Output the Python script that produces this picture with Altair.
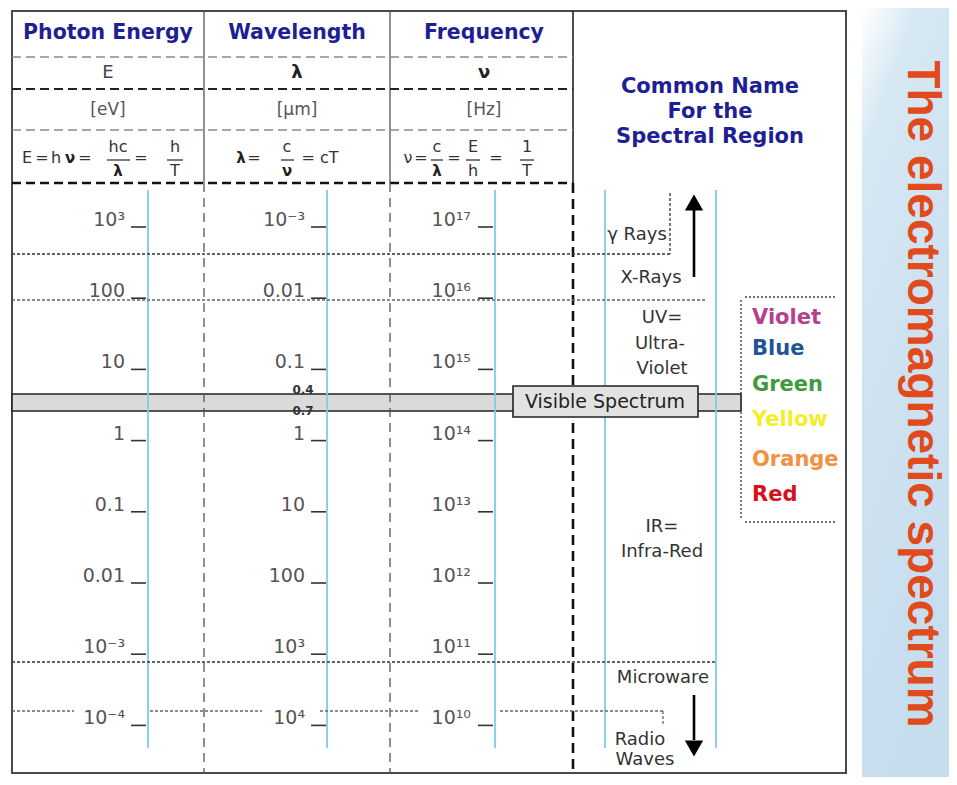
import altair as alt
import pandas as pd

# ---------------- chart values ----------------
log_energy = [3, 2, 1, 0, -1, -2, -3, -4]
energy_labels = ["10³", "100", "10", "1", "0.1", "0.01", "10⁻³", "10⁻⁴"]
wavelength_labels = ["10⁻³", "0.01", "0.1", "1", "10", "100", "10³", "10⁴"]
frequency_labels = ["10¹⁷", "10¹⁶", "10¹⁵", "10¹⁴", "10¹³", "10¹²", "10¹¹", "10¹⁰"]

column_titles = ["Photon Energy", "Wavelength", "Frequency"]
column_symbols = ["E", "λ", "ν"]
column_units = ["[eV]", "[μm]", "[Hz]"]

region_title = ["Common Name", "For the", "Spectral Region"]
region_names = ["γ Rays", "X-Rays", "UV=", "Ultra-", "Violet", "IR=", "Infra-Red",
                "Microware", "Radio", "Waves"]

visible_names = ["Violet", "Blue", "Green", "Yellow", "Orange", "Red"]
visible_limits = ["0.4", "0.7"]
visible_label = "Visible Spectrum"
main_title = "The electromagnetic spectrum"

# ---------------- styles ----------------
SANS = "DejaVu Sans"
NAVY = "#1f1f95"
visible_colors = ["#b3418f", "#1f5597", "#3f9a3f", "#f2ee2a", "#f39140", "#d4111c"]
AXIS_BLUE = "#82cbe8"

# ---------------- layout (page pixels) ----------------
PAGE_X = [8, 949]
PAGE_Y = [8, 777]
ROW_Y0 = 227.0
ROW_STEP = 71.2
LOG_TOP = log_energy[0] + (ROW_Y0 - PAGE_Y[0]) / ROW_STEP
LOG_BOTTOM = log_energy[0] - (PAGE_Y[1] - ROW_Y0) / ROW_STEP

COL_CENTER = [108, 297, 484]
COL_AXIS = [148, 327, 495]
LABEL_RIGHT = [125, 305, 471]
TICK_X = [(131, 146), (311, 326), (478, 493)]

XS = alt.Scale(domain=PAGE_X, nice=False, zero=False)
YS = alt.Scale(domain=PAGE_Y, reverse=True, nice=False, zero=False)
ES = alt.Scale(domain=[LOG_BOTTOM, LOG_TOP], nice=False, zero=False)


def ex():
    return alt.X("x:Q", scale=XS, axis=None)


def ey(field="y", scale=YS):
    return alt.Y(f"{field}:Q", scale=scale, axis=None)


def rules(segs, color, width, dash=None, opacity=1.0):
    df = pd.DataFrame(segs, columns=["x", "y", "x2", "y2"])
    kw = dict(color=color, strokeWidth=width, opacity=opacity)
    if dash:
        kw["strokeDash"] = dash
    return alt.Chart(df).mark_rule(**kw).encode(
        x=ex(), y=ey(), x2=alt.X2("x2:Q"), y2=alt.Y2("y2:Q"))


def rects(boxes, fill, stroke=None, width=1.0):
    df = pd.DataFrame(boxes, columns=["x", "y", "x2", "y2"])
    kw = dict(fill=fill)
    if stroke:
        kw["stroke"] = stroke
        kw["strokeWidth"] = width
    return alt.Chart(df).mark_rect(**kw).encode(
        x=ex(), y=ey(), x2=alt.X2("x2:Q"), y2=alt.Y2("y2:Q"))


def texts(items, size, color, weight="normal", align="center", baseline="middle",
          angle=0, font=SANS):
    df = pd.DataFrame(items, columns=["x", "y", "t"])
    kw = dict(fontSize=size, font=font, fontWeight=weight, align=align,
              baseline=baseline, color=color)
    if angle:
        kw["angle"] = angle
    return alt.Chart(df).mark_text(**kw).encode(x=ex(), y=ey(), text="t:N")


layers = []

# right gradient band + title
grad = alt.LinearGradient(
    gradient="linear",
    stops=[alt.GradientStop(offset=0, color="#ffffff"),
           alt.GradientStop(offset=0.18, color="#d6e8f3"),
           alt.GradientStop(offset=0.5, color="#cfe2f1"),
           alt.GradientStop(offset=1, color="#c6ddee")],
    x1=0, x2=0.3, y1=0, y2=1)
band_df = pd.DataFrame([[862, PAGE_Y[0], PAGE_X[1], PAGE_Y[1]]], columns=["x", "y", "x2", "y2"])
layers.append(alt.Chart(band_df).mark_rect(color=grad).encode(
    x=ex(), y=ey(), x2=alt.X2("x2:Q"), y2=alt.Y2("y2:Q")))

# outer box
layers.append(rects([[12, 11, 846, 773]], "white", "#4a4a4a", 2))

# visible band across the table
layers.append(rects([[12, 394, 741, 411]], "#dadada", "#222222", 1.6))

# light-blue scale lines
layers.append(rules([[x, 190, x, 748] for x in COL_AXIS + [605, 716]], AXIS_BLUE, 1.8))

# header grid
layers.append(rules([[204, 11, 204, 183], [390, 11, 390, 183]], "#555555", 1.3))
layers.append(rules([[573, 11, 573, 183]], "#222222", 1.6))
layers.append(rules([[12, 57, 573, 57], [12, 130, 573, 130]], "#8a8a8a", 1.6, [9, 5]))
layers.append(rules([[12, 89, 573, 89]], "#222222", 2.0, [9, 5]))
layers.append(rules([[12, 183, 573, 183]], "#111111", 2.6, [9, 5]))

# body column separators
layers.append(rules([[204, 183, 204, 773], [390, 183, 390, 773]], "#555555", 1.3, [9, 6]))
layers.append(rules([[573, 183, 573, 773]], "#111111", 2.6, [10, 6]))

# region boundaries (dotted)
layers.append(rules([[12, 254, 670, 254], [670, 193, 670, 254],
                     [12, 662, 716, 662]], "#333333", 1.3, [3, 2]))
layers.append(rules([[12, 300, 705, 300],
                     [12, 711, 74, 711], [150, 711, 262, 711], [320, 711, 418, 711],
                     [500, 711, 663, 711], [663, 711, 663, 724]],
                    "#666666", 1.3, [3, 2]))
# bracket around visible colours
layers.append(rules([[745, 297, 835, 297], [741, 300, 741, 518], [745, 522, 835, 522]],
                    "#444444", 1.4, [2, 2]))

# tick marks and tick labels, positioned on the log-energy scale
tick_rows = []
label_rows = []
for c, labels in enumerate([energy_labels, wavelength_labels, frequency_labels]):
    for le, lab in zip(log_energy, labels):
        tick_rows.append({"x": TICK_X[c][0], "x2": TICK_X[c][1], "logE": le})
        label_rows.append({"x": LABEL_RIGHT[c], "logE": le, "t": lab})
layers.append(alt.Chart(pd.DataFrame(tick_rows)).mark_rule(color="#333333", strokeWidth=1.6).encode(
    x=ex(), x2=alt.X2("x2:Q"), y=ey("logE", ES)))
layers.append(alt.Chart(pd.DataFrame(label_rows)).mark_text(
    fontSize=19, font=SANS, color="#555555", align="right", baseline="alphabetic", dy=-1).encode(
    x=ex(), y=ey("logE", ES), text="t:N"))

# visible spectrum label box
layers.append(rects([[513, 386, 698, 417]], "#e2e2e2", "#222222", 1.6))
layers.append(texts([[605, 402, visible_label]], 19, "#222222"))
layers.append(texts([[303, 390, visible_limits[0]], [303, 411, visible_limits[1]]], 12, "#333333", "bold"))

# header texts
layers.append(texts([[COL_CENTER[i], 33, column_titles[i]] for i in range(3)], 20.5, NAVY, "bold"))
layers.append(texts([[COL_CENTER[0], 73, column_symbols[0]]], 18, "#444444"))
layers.append(texts([[COL_CENTER[1], 73, column_symbols[1]], [COL_CENTER[2], 73, column_symbols[2]]],
                    18, "#222222", "bold"))
layers.append(texts([[COL_CENTER[i], 110, column_units[i]] for i in range(3)], 17, "#555555"))
layers.append(texts([[710, 87 + 25 * i, region_title[i]] for i in range(3)], 21, NAVY, "bold"))

# formulas
F_MAIN, F_NUM, F_DEN, F_BAR = 158, 147, 171, 160
layers.append(texts([[27, F_MAIN, "E"], [42, F_MAIN, "="], [56, F_MAIN, "h"], [85, F_MAIN, "="],
                     [118, F_NUM, "hc"], [141, F_MAIN, "="], [175, F_NUM, "h"], [175, F_DEN, "T"],
                     [254, F_MAIN, "="], [287, F_NUM, "c"], [320, F_MAIN, "= cT"],
                     [408, F_MAIN, "ν"], [421, F_MAIN, "="], [437, F_NUM, "c"], [454, F_MAIN, "="],
                     [473, F_NUM, "E"], [473, F_DEN, "h"], [496, F_MAIN, "="], [527, F_NUM, "1"],
                     [527, F_DEN, "T"]], 16, "#333333"))
layers.append(texts([[70, F_MAIN, "ν"], [118, F_DEN, "λ"], [241, F_MAIN, "λ"], [287, F_DEN, "ν"],
                     [437, F_DEN, "λ"]], 15, "#222222", "bold"))
layers.append(rules([[107, F_BAR, 130, F_BAR], [167, F_BAR, 183, F_BAR], [281, F_BAR, 294, F_BAR],
                     [431, F_BAR, 443, F_BAR], [466, F_BAR, 480, F_BAR], [520, F_BAR, 534, F_BAR]],
                    "#333333", 1.3))

# spectral region names
region_pos = [(637, 235), (651, 278), (662, 318), (660, 344), (662, 369), (662, 527),
              (662, 552), (663, 678), (640, 740), (645, 760)]
layers.append(texts([[p[0], p[1], n] for p, n in zip(region_pos, region_names)], 18, "#333333"))

# visible colour names
vis_y = [318, 349, 385, 420, 460, 495]
for name, col, yy in zip(visible_names, visible_colors, vis_y):
    layers.append(texts([[752, yy, name]], 21, col, "bold", align="left"))

# arrows
layers.append(rules([[694, 210, 694, 277], [694, 695, 694, 740]], "#000000", 2.6))
up_df = pd.DataFrame({"x": [694], "y": [203]})
layers.append(alt.Chart(up_df).mark_point(
    shape="triangle-up", size=220, filled=True, fill="#000000", stroke="#000000",
    opacity=1).encode(x=ex(), y=ey()))
down_df = pd.DataFrame({"x": [694], "y": [748]})
layers.append(alt.Chart(down_df).mark_point(
    shape="triangle-down", size=220, filled=True, fill="#000000", stroke="#000000",
    opacity=1).encode(x=ex(), y=ey()))

# big rotated title
layers.append(texts([[908, 394, main_title]], 46, "#e04a1c", "bold", baseline="alphabetic",
                    angle=90, font="Liberation Sans"))

chart = alt.layer(*layers).resolve_scale(y="independent").properties(
    width=PAGE_X[1] - PAGE_X[0], height=PAGE_Y[1] - PAGE_Y[0], padding=0,
    background="white").configure_view(stroke=None)

chart.save("out.html", embed_options={"renderer": "svg", "actions": False})
